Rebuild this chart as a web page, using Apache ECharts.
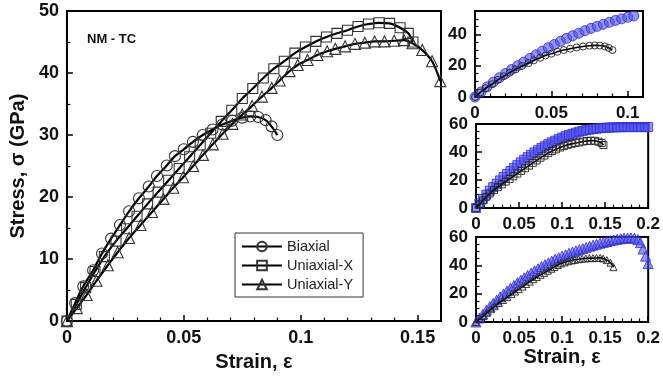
<!DOCTYPE html>
<html>
<head>
<meta charset="utf-8">
<style>
html, body { margin: 0; padding: 0; background: #fff; }
#chartElem { width: 663px; height: 377px; }
</style>
</head>
<body>
<div id="chartElem"></div>
<script src="https://cdn.jsdelivr.net/npm/echarts@6/dist/echarts.min.js"></script>
<script>

// main panel, [strain, stress in GPa]
let biaxial = [
	[0, 0], [0.0035, 2.9], [0.007, 5.6], [0.0112, 8.2], [0.015, 10.9], [0.0189, 13.3],
	[0.0227, 15.5], [0.0266, 17.7], [0.0308, 19.8], [0.035, 21.7], [0.0385, 23.4],
	[0.0427, 25.1], [0.0462, 26.6], [0.05, 27.7], [0.0539, 28.9], [0.0581, 30.0],
	[0.0623, 30.9], [0.0665, 31.7], [0.0707, 32.3], [0.075, 32.8], [0.0784, 33.0],
	[0.0818, 32.9], [0.085, 32.4], [0.0875, 31.4], [0.09, 30.0]
];

let uniaxialX = [
	[0, 0], [0.004, 2.7], [0.008, 5.4], [0.012, 8.0], [0.016, 10.4], [0.021, 12.9],
	[0.0255, 14.9], [0.03, 16.9], [0.0345, 18.9], [0.039, 20.8], [0.0435, 22.7],
	[0.048, 24.6], [0.0525, 26.5], [0.057, 28.4], [0.0615, 30.3], [0.066, 32.2],
	[0.0705, 34.0], [0.075, 35.9], [0.0795, 37.5], [0.084, 39.2], [0.0885, 40.7],
	[0.093, 41.9], [0.0975, 43.2], [0.102, 44.2], [0.1065, 45.1], [0.111, 45.8],
	[0.1155, 46.4], [0.12, 46.9], [0.1245, 47.5], [0.129, 47.9], [0.1335, 48.1],
	[0.138, 48.0], [0.1425, 47.3], [0.146, 46.4], [0.148, 45.0]
];

let uniaxialY = [
	[0, 0], [0.0042, 2.1], [0.0084, 4.2], [0.0126, 6.5], [0.0175, 9.0], [0.0217, 11.1],
	[0.0266, 13.4], [0.0315, 15.5], [0.0364, 17.6], [0.0413, 19.7], [0.0455, 21.5],
	[0.0497, 23.2], [0.054, 25.0], [0.0582, 26.8], [0.0624, 28.5], [0.0666, 30.2],
	[0.0708, 31.8], [0.075, 33.3], [0.0792, 34.7], [0.0834, 36.2], [0.0876, 37.6],
	[0.091, 38.8], [0.0952, 40.3], [0.0987, 41.3], [0.1029, 42.1], [0.1071, 42.9],
	[0.1113, 43.5], [0.1148, 43.9], [0.119, 44.3], [0.1232, 44.7], [0.1274, 44.9],
	[0.1316, 45.1], [0.1358, 45.1], [0.14, 45.2], [0.1442, 45.3], [0.1478, 44.8],
	[0.152, 43.7], [0.1562, 41.9], [0.1597, 38.7]
];

// right-hand panels, blue reference sets
let blueCircles = [
	[0, 0], [0.004, 3.3], [0.008, 6.5], [0.012, 9.5], [0.016, 12.3], [0.02, 15.0],
	[0.024, 17.6], [0.028, 20.0], [0.032, 22.4], [0.036, 24.7], [0.04, 27.0],
	[0.044, 29.3], [0.048, 31.5], [0.052, 33.6], [0.056, 35.6], [0.06, 37.5],
	[0.064, 39.2], [0.068, 40.8], [0.072, 42.4], [0.076, 43.9], [0.08, 45.2],
	[0.084, 46.5], [0.088, 47.8], [0.092, 49.0], [0.096, 50.0], [0.1, 51.0], [0.104, 51.8]
];

let blueSquares = [
	[0, 0], [0.004, 3.3], [0.008, 6.5], [0.012, 9.5], [0.016, 12.4], [0.02, 14.9],
	[0.024, 17.3], [0.028, 19.7], [0.032, 22.1], [0.036, 24.3], [0.04, 26.4],
	[0.044, 28.5], [0.048, 30.6], [0.052, 32.6], [0.056, 34.5], [0.06, 36.3],
	[0.064, 38.0], [0.068, 39.7], [0.072, 41.3], [0.076, 42.8], [0.08, 44.2],
	[0.084, 45.6], [0.088, 46.9], [0.092, 48.1], [0.096, 49.2], [0.1, 50.3],
	[0.104, 51.3], [0.108, 52.2], [0.112, 53.0], [0.116, 53.8], [0.12, 54.5],
	[0.124, 55.1], [0.128, 55.6], [0.132, 56.0], [0.136, 56.4], [0.14, 56.7],
	[0.144, 57.0], [0.148, 57.2], [0.152, 57.4], [0.156, 57.5], [0.16, 57.6],
	[0.164, 57.7], [0.168, 57.7], [0.172, 57.8], [0.176, 57.8], [0.18, 57.8],
	[0.184, 57.8], [0.188, 57.8], [0.192, 57.8], [0.196, 57.8], [0.2, 57.8]
];

let blueTriangles = [
	[0, 0], [0.004, 2.8], [0.008, 5.6], [0.012, 8.3], [0.016, 10.9], [0.02, 13.2],
	[0.024, 15.5], [0.028, 17.7], [0.032, 19.8], [0.036, 21.9], [0.04, 23.9],
	[0.044, 25.8], [0.048, 27.7], [0.052, 29.5], [0.056, 31.2], [0.06, 32.9],
	[0.064, 34.5], [0.068, 36.1], [0.072, 37.6], [0.076, 39.1], [0.08, 40.5],
	[0.084, 41.8], [0.088, 43.1], [0.092, 44.3], [0.096, 45.4], [0.1, 46.5],
	[0.104, 47.5], [0.108, 48.5], [0.112, 49.4], [0.116, 50.2], [0.12, 51.1],
	[0.124, 51.9], [0.128, 52.7], [0.132, 53.5], [0.136, 54.2], [0.14, 54.9],
	[0.144, 55.6], [0.148, 56.2], [0.152, 56.8], [0.156, 57.4], [0.16, 57.9],
	[0.164, 58.4], [0.168, 58.8], [0.172, 59.1], [0.176, 59.3], [0.18, 59.4],
	[0.184, 59.2], [0.188, 58.2], [0.191, 56.0], [0.194, 51.5], [0.197, 46.5], [0.2, 41.3]
];

let seriesNames = ["Biaxial", "Uniaxial-X", "Uniaxial-Y"];


let font = "Liberation Sans";
let chart = echarts.init(document.getElementById("chartElem"), null, {renderer: "canvas"});

chart.setOption(buildOption());


function axisStyle(min, max, interval, minorSplit, labelSize, extra) {
	return Object.assign({
		type: "value",
		min: min,
		max: max,
		interval: interval,
		splitLine: {show: false},
		axisLine: {show: true, onZero: false, lineStyle: {color: "#000", width: 2}},
		axisTick: {show: true, inside: true, length: 6, lineStyle: {color: "#000", width: 1.5}},
		minorTick: {show: true, splitNumber: minorSplit, length: 3.5, lineStyle: {color: "#000", width: 1.2}},
		axisLabel: {
			color: "#111",
			fontFamily: font,
			fontWeight: "bold",
			fontSize: labelSize,
			showMaxLabel: Math.abs(max / interval - Math.round(max / interval)) < 1e-9
		}
	}, extra || {});
}

function mainLine(name, data, symbol, size) {
	return {
		name: name,
		type: "line",
		xAxisIndex: 0,
		yAxisIndex: 0,
		data: data,
		symbol: symbol,
		symbolSize: size,
		showAllSymbol: true,
		smooth: 0.3,
		lineStyle: {color: "#000", width: 2.2},
		itemStyle: {color: "rgba(255,255,255,0)", borderColor: "#333", borderWidth: 1.1},
		z: 3
	};
}

function subLine(idx, data, symbol, size) {
	return {
		type: "line",
		xAxisIndex: idx,
		yAxisIndex: idx,
		data: data,
		symbol: symbol,
		symbolSize: size,
		showAllSymbol: true,
		smooth: 0.3,
		lineStyle: {color: "#000", width: 1.6},
		itemStyle: {color: "rgba(255,255,255,0)", borderColor: "#222", borderWidth: 0.9},
		z: 4
	};
}

function subBlue(idx, data, symbol, size) {
	return {
		type: "scatter",
		xAxisIndex: idx,
		yAxisIndex: idx,
		data: data,
		symbol: symbol,
		symbolSize: size,
		itemStyle: {color: "rgba(80,80,245,0.6)", borderColor: "#2c2cc8", borderWidth: 0.8, opacity: 1},
		z: 2
	};
}

function buildOption() {
	let frame = {show: true, borderColor: "#000", borderWidth: 2, containLabel: false};
	
	return {
		animation: false,
		backgroundColor: "#fff",
		textStyle: {fontFamily: font},
		title: {
			text: "NM - TC",
			left: 82,
			top: 28,
			textStyle: {fontFamily: font, fontWeight: "bold", fontSize: 13, color: "#111"}
		},
		legend: {
			data: seriesNames,
			orient: "vertical",
			left: 235,
			top: 233,
			padding: [6, 10, 5, 6],
			itemGap: 4,
			itemWidth: 40,
			itemHeight: 12,
			borderColor: "#333",
			borderWidth: 1,
			textStyle: {fontFamily: font, fontSize: 14.5, color: "#222"}
		},
		grid: [
			Object.assign({left: 60, top: 11, width: 381, height: 312}, frame),
			Object.assign({left: 475, top: 11, width: 168, height: 86}, frame),
			Object.assign({left: 476, top: 124, width: 175, height: 84}, frame),
			Object.assign({left: 476, top: 237, width: 175, height: 85}, frame)
		],
		xAxis: [
			axisStyle(0, 0.16, 0.05, 5, 18, {
				gridIndex: 0,
				name: "Strain, ε",
				nameLocation: "middle",
				nameGap: 25,
				nameTextStyle: {fontFamily: font, fontWeight: "bold", fontSize: 20, color: "#111"}
			}),
			axisStyle(0, 0.11, 0.05, 5, 17, {gridIndex: 1}),
			axisStyle(0, 0.2, 0.05, 5, 17, {gridIndex: 2}),
			axisStyle(0, 0.2, 0.05, 5, 17, {
				gridIndex: 3,
				name: "Strain, ε",
				nameLocation: "middle",
				nameGap: 24,
				nameTextStyle: {fontFamily: font, fontWeight: "bold", fontSize: 20, color: "#111"}
			})
		],
		yAxis: [
			axisStyle(0, 50, 10, 2, 18, {
				gridIndex: 0,
				name: "Stress, σ (GPa)",
				nameLocation: "middle",
				nameGap: 26,
				nameTextStyle: {fontFamily: font, fontWeight: "bold", fontSize: 20, color: "#111"}
			}),
			axisStyle(0, 55, 20, 4, 17, {gridIndex: 1}),
			axisStyle(0, 60, 20, 4, 17, {gridIndex: 2}),
			axisStyle(0, 60, 20, 4, 17, {gridIndex: 3})
		],
		series: [
			mainLine(seriesNames[0], biaxial, "circle", 11),
			mainLine(seriesNames[1], uniaxialX, "rect", 10),
			mainLine(seriesNames[2], uniaxialY, "triangle", 11),
			
			subBlue(1, blueCircles, "circle", 10),
			subLine(1, biaxial, "circle", 7),
			subBlue(2, blueSquares, "rect", 9),
			subLine(2, uniaxialX, "rect", 7),
			subBlue(3, blueTriangles, "triangle", 10),
			subLine(3, uniaxialY, "triangle", 7)
		]
	};
}

</script>
</body>
</html>
